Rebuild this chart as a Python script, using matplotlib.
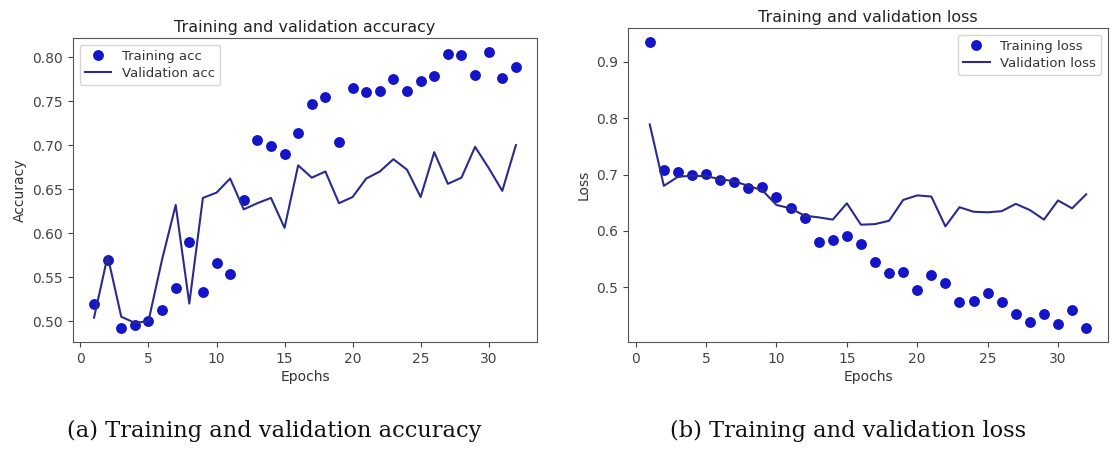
import matplotlib
matplotlib.use("Agg")
import matplotlib.pyplot as plt

epochs = list(range(1, 33))

train_acc = [0.520, 0.569, 0.492, 0.496, 0.500, 0.513, 0.538, 0.590, 0.533, 0.566,
             0.553, 0.638, 0.706, 0.699, 0.690, 0.714, 0.747, 0.755, 0.704, 0.765,
             0.760, 0.761, 0.775, 0.761, 0.773, 0.778, 0.803, 0.802, 0.780, 0.806,
             0.776, 0.789]
val_acc = [0.504, 0.574, 0.505, 0.498, 0.500, 0.570, 0.632, 0.520, 0.640, 0.646,
           0.662, 0.627, 0.634, 0.640, 0.606, 0.677, 0.663, 0.670, 0.634, 0.641,
           0.662, 0.670, 0.684, 0.672, 0.641, 0.692, 0.656, 0.663, 0.698, 0.674,
           0.648, 0.700]

train_loss = [0.935, 0.709, 0.704, 0.699, 0.701, 0.691, 0.686, 0.676, 0.678, 0.661,
              0.640, 0.623, 0.581, 0.583, 0.591, 0.576, 0.545, 0.525, 0.527, 0.495,
              0.522, 0.508, 0.474, 0.476, 0.489, 0.474, 0.453, 0.438, 0.453, 0.434,
              0.459, 0.428]
val_loss = [0.789, 0.680, 0.696, 0.698, 0.697, 0.692, 0.688, 0.680, 0.672, 0.646,
            0.640, 0.627, 0.624, 0.620, 0.649, 0.611, 0.612, 0.618, 0.655, 0.663,
            0.661, 0.608, 0.642, 0.634, 0.633, 0.635, 0.648, 0.637, 0.620, 0.654,
            0.640, 0.665]

dot_col = '#1414c8'
line_col = '#2b2b8c'
frame_col = '#555555'

fig = plt.figure(figsize=(11.12, 4.49), dpi=100)
ax1 = fig.add_axes([0.0656, 0.2383, 0.4173, 0.6771])
ax2 = fig.add_axes([0.5647, 0.2383, 0.4317, 0.6994])

def draw(ax, train, val, title, ylabel, tr_lab, va_lab, loc):
	ax.plot(epochs, train, 'o', color=dot_col, markersize=6.8, label=tr_lab)
	ax.plot(epochs, val, '-', color=line_col, linewidth=1.5, label=va_lab)
	ax.set_title(title, fontsize=11.5, color='#222222', pad=4)
	ax.set_xlabel('Epochs', fontsize=10, color='#333333', labelpad=3)
	ax.set_ylabel(ylabel, fontsize=10, color='#333333')
	ax.tick_params(labelsize=10, colors='#444444', length=3.5)
	for s in ax.spines.values():
		s.set_color(frame_col)
	leg = ax.legend(loc=loc, fontsize=9.5, handlelength=2.0, borderpad=0.4,
					labelspacing=0.3)
	for t in leg.get_texts():
		t.set_color('#333333')

draw(ax1, train_acc, val_acc, 'Training and validation accuracy', 'Accuracy',
	 'Training acc', 'Validation acc', 'upper left')
draw(ax2, train_loss, val_loss, 'Training and validation loss', 'Loss',
	 'Training loss', 'Validation loss', 'upper right')
ax1.set_yticks([0.50, 0.55, 0.60, 0.65, 0.70, 0.75, 0.80])
ax2.set_yticks([0.5, 0.6, 0.7, 0.8, 0.9])

fig.text(0.247, 0.026, '(a) Training and validation accuracy', fontsize=16.2,
		 family='DejaVu Serif', ha='center', va='baseline', color='#111111')
fig.text(0.763, 0.026, '(b) Training and validation loss', fontsize=16.2,
		 family='DejaVu Serif', ha='center', va='baseline', color='#111111')

fig.savefig('out.png', dpi=100)
